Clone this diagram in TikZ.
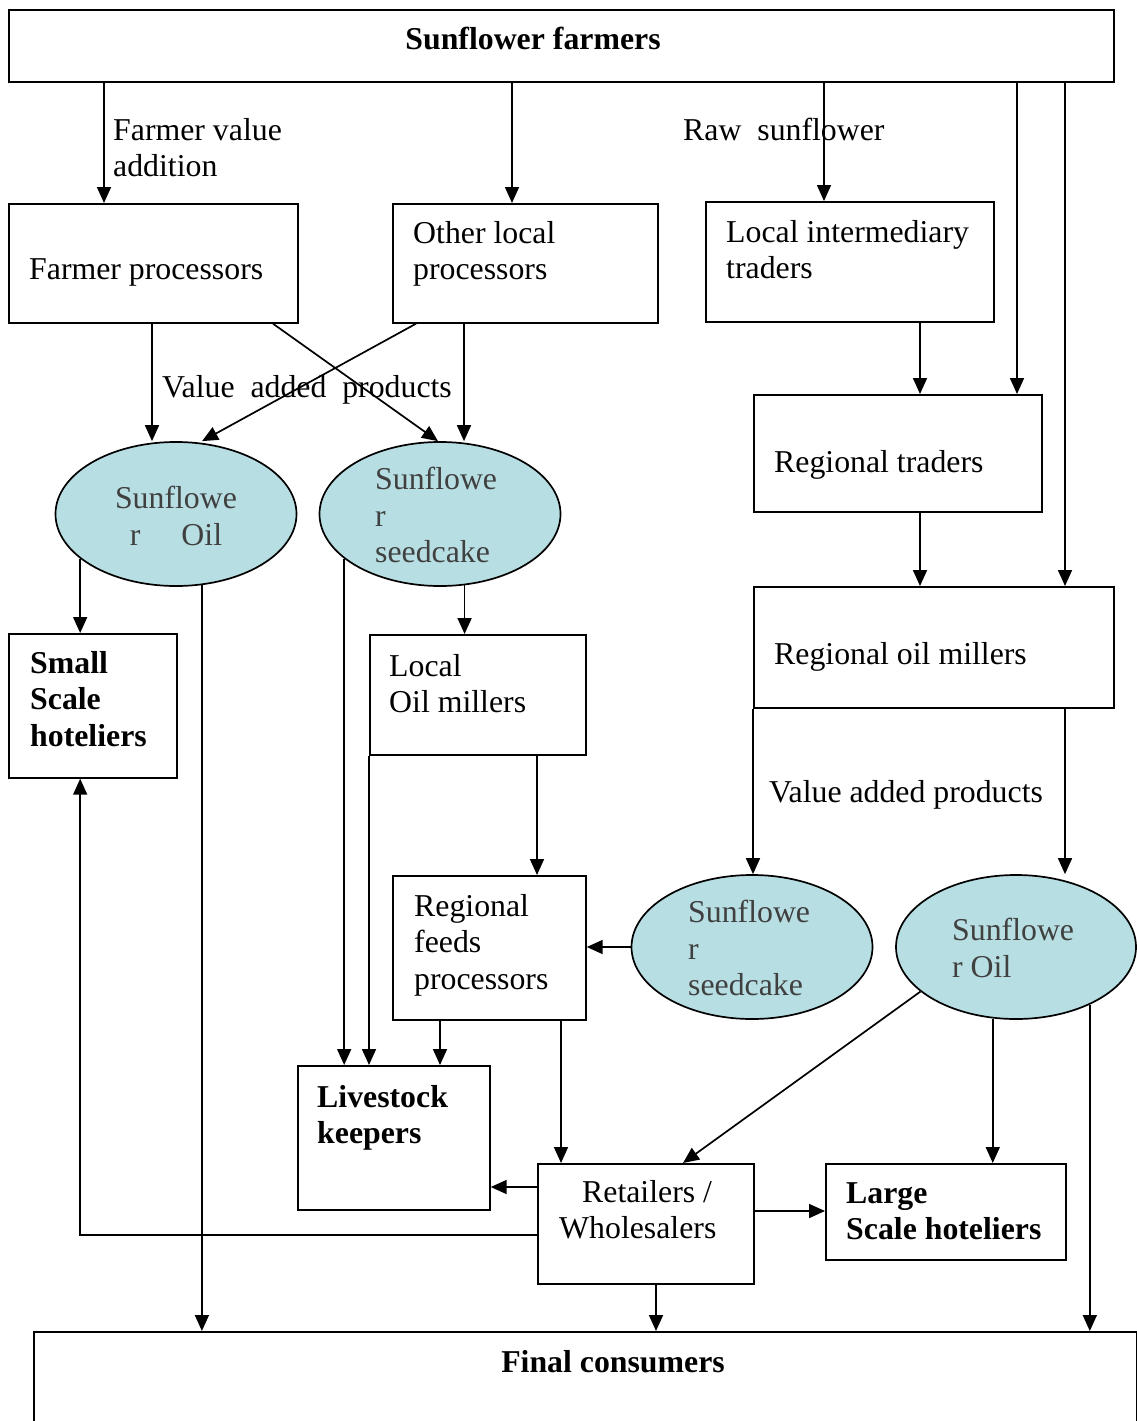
\documentclass[tikz,border=0pt]{standalone}
\usepackage{fontspec}
\setmainfont{Liberation Serif}
\usetikzlibrary{arrows.meta,shapes.geometric}
\definecolor{seedblue}{HTML}{B7DEE2}

\begin{document}
\begin{tikzpicture}[x=1pt,y=-1pt,font=\fontsize{31.8pt}{36.5pt}\selectfont]
	\tikzstyle{box}=[draw=black,line width=1.7pt,anchor=north west,inner sep=0pt]
	\tikzstyle{blob}=[ellipse,draw=black,line width=1.7pt,fill=seedblue,minimum width=241pt,minimum height=144pt,inner sep=0pt]
	\tikzstyle{txt}=[anchor=north west,inner sep=0pt,align=left]
	\tikzstyle{boldtxt}=[txt,font=\fontsize{31.8pt}{36.5pt}\selectfont\bfseries]
	\tikzstyle{blobtxt}=[txt,text=black!75]
	\tikzstyle{arr}=[line width=1.7pt,-{Triangle[length=16pt,width=14pt]}]
	\useasboundingbox (0,0) rectangle (1137,1421);
	\node[box,minimum width=1105pt,minimum height=72pt] (farm) at (8,9) {};
	\node[box,minimum width=289pt,minimum height=119pt] (fp) at (8,203) {};
	\node[box,minimum width=265pt,minimum height=119pt] (olp) at (392,203) {};
	\node[box,minimum width=288pt,minimum height=120pt] (lit) at (705,201) {};
	\node[box,minimum width=288pt,minimum height=117pt] (rt) at (753,394) {};
	\node[box,minimum width=360pt,minimum height=121pt] (rom) at (753,586) {};
	\node[box,minimum width=168pt,minimum height=144pt] (ssh) at (8,633) {};
	\node[box,minimum width=216pt,minimum height=120pt] (lom) at (369,634) {};
	\node[box,minimum width=193pt,minimum height=144pt] (rfp) at (392,875) {};
	\node[box,minimum width=192pt,minimum height=144pt] (lk) at (297,1065) {};
	\node[box,minimum width=216pt,minimum height=120pt] (ret) at (537,1163) {};
	\node[box,minimum width=240pt,minimum height=96pt] (lsh) at (825,1163) {};
	\node[box,minimum width=1103pt,minimum height=140pt] (fc) at (33,1331) {};
	\node[blob] (oil) at (176,514) {};
	\node[blob] (sc) at (440,514) {};
	\node[blob] (sc2) at (752,947) {};
	\node[blob,minimum width=240pt] (oil2) at (1016,947) {};
	\node[boldtxt,anchor=base] (farmtxt) at (533,49) {Sunflower farmers};
	\node[txt] (fvatxt) at (113,118) {Farmer value\\addition};
	\node[txt] (fptxt) at (29,258) {Farmer processors};
	\node[txt] (olptxt) at (413,221) {Other local\\processors};
	\node[txt] (rawtxt) at (683,118) {Raw\ \ sunflower};
	\node[txt] (littxt) at (726,220) {Local intermediary\\traders};
	\node[txt] (vaptxt) at (162,375) {Value\ \ added\ \ products};
	\node[txt] (rttxt) at (774,450) {Regional traders};
	\node[blobtxt,anchor=north,align=center] (oiltxt) at (176,486) {Sunflowe\\r\hspace{41pt}Oil};
	\node[blobtxt] (sctxt) at (375,467) {Sunflowe\\r\\seedcake};
	\node[txt] (romtxt) at (774,642) {Regional oil millers};
	\node[boldtxt] (sshtxt) at (30,651) {Small\\Scale\\hoteliers};
	\node[txt] (lomtxt) at (389,654) {Local\\Oil millers};
	\node[txt] (vap2txt) at (769,780) {Value added products};
	\node[txt] (rfptxt) at (414,894) {Regional\\feeds\\processors};
	\node[blobtxt] (sc2txt) at (688,900) {Sunflowe\\r\\seedcake};
	\node[blobtxt] (oil2txt) at (952,918) {Sunflowe\\r Oil};
	\node[boldtxt] (lktxt) at (317,1085) {Livestock\\keepers};
	\node[txt] (rettxt) at (559,1180) {\hspace*{23pt}Retailers /\\Wholesalers};
	\node[boldtxt] (lshtxt) at (846,1182) {Large\\Scale hoteliers};
	\node[boldtxt,anchor=base] (fctxt) at (613,1372) {Final consumers};
	\draw[arr] (farm.south -| 104,0) -- (fp.north -| 104,0);
	\draw[arr] (farm.south -| 512,0) -- (olp.north -| 512,0);
	\draw[arr] (farm.south -| 824,0) -- (lit.north -| 824,0);
	\draw[arr] (farm.south -| 1017,0) -- (rt.north -| 1017,0);
	\draw[arr] (farm.south -| 1065,0) -- (rom.north -| 1065,0);
	\draw[arr] (lit.south -| 920,0) -- (rt.north -| 920,0);
	\draw[arr] (rt.south -| 920,0) -- (rom.north -| 920,0);
	\draw[arr] (fp.south -| 152,0) -- (oil.north -| 152,0);
	\draw[arr] (fp.south -| 273,0) -- (sc.north -| 438,0);
	\draw[arr] (olp.south -| 416,0) -- (oil.north -| 202,0);
	\draw[arr] (olp.south -| 464,0) -- (sc.north -| 464,0);
	\draw[arr] (oil.205) -- (ssh.north -| oil.205);
	\draw[arr] (oil.290) -- (fc.north -| oil.290);
	\draw[arr] (sc.205) -- (lk.north -| sc.205);
	\draw[arr] (sc.289) -- (lom.north -| sc.289);
	\draw[arr] (lom.south west) -- (lk.north -| lom.south west);
	\draw[arr] (lom.south -| 537,0) -- (rfp.north -| 537,0);
	\draw[arr] (rom.south west) -- (sc2.north -| rom.south west);
	\draw[arr] (rom.south -| 1065,0) -- (oil2.north -| 1065,0);
	\draw[arr] (sc2.west) -- (rfp.east |- sc2.west);
	\draw[arr] (rfp.south -| 440,0) -- (lk.north -| 440,0);
	\draw[arr] (rfp.south -| 561,0) -- (ret.north -| 561,0);
	\draw[arr] (oil2.205) -- (ret.north -| 683,0);
	\draw[arr] (oil2.252) -- (lsh.north -| oil2.252);
	\draw[arr] (oil2.322) -- (fc.north -| oil2.322);
	\draw[arr] (ret.west |- 0,1187) -- (lk.east |- 0,1187);
	\draw[arr] (ret.west |- 0,1235) -| (ssh.south -| oil.205);
	\draw[arr] (ret.east |- 0,1211) -- (lsh.west |- 0,1211);
	\draw[arr] (ret.south -| 656,0) -- (fc.north -| 656,0);
\end{tikzpicture}
\end{document}
